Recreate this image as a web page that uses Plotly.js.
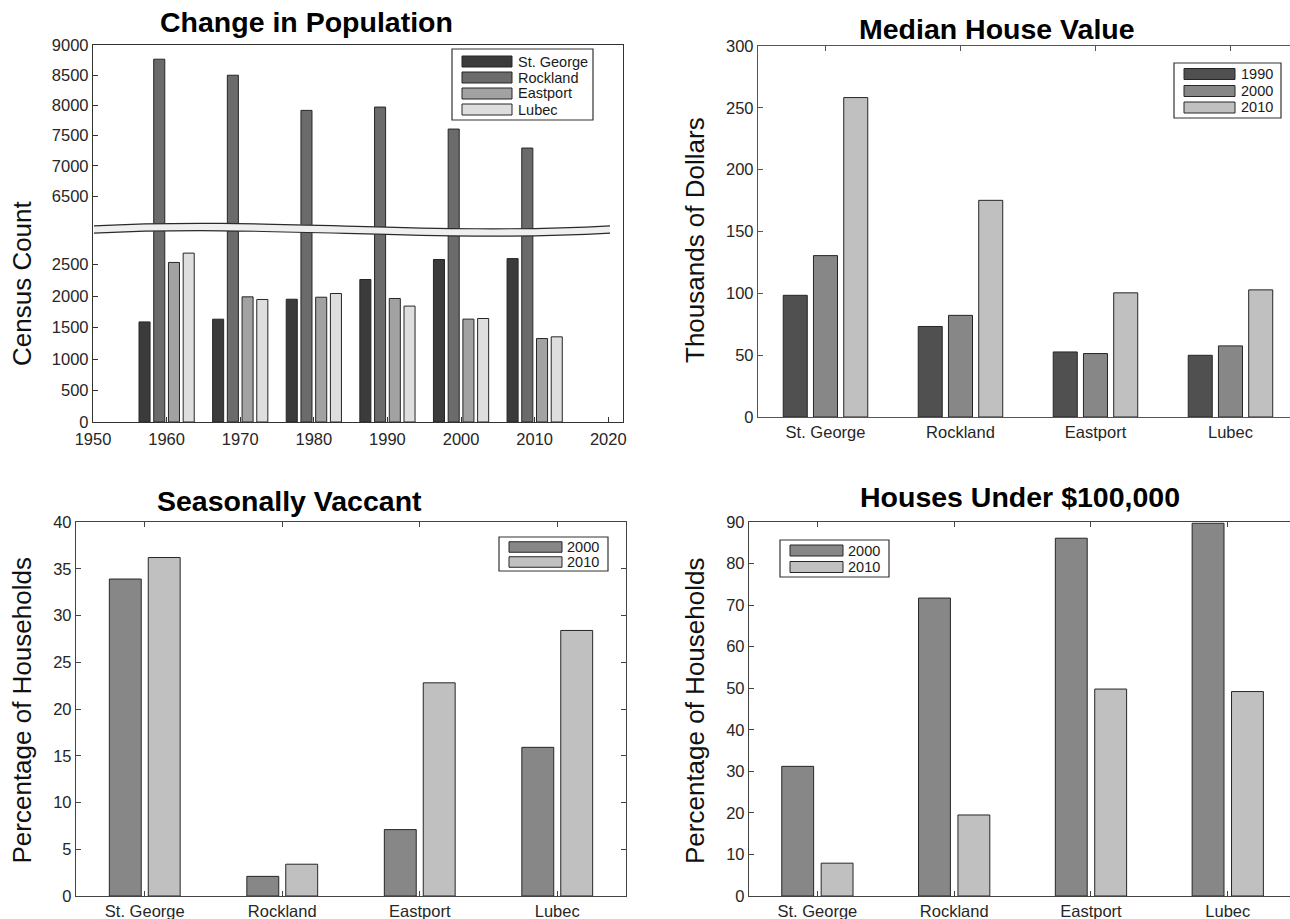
<!DOCTYPE html>
<html>
<head>
<meta charset="utf-8">
<script src="https://cdn.plot.ly/plotly-3.0.1.min.js"></script>
<style>html,body{margin:0;padding:0;background:#fff;}#chart{width:1290px;height:919px;}</style>
</head>
<body>
<div id="chart"></div>
<script>
// ---------- DATA ----------
const popYears = [1960, 1970, 1980, 1990, 2000, 2010];
const popTickYears = [1950, 1960, 1970, 1980, 1990, 2000, 2010, 2020];
const popSeriesNames = ['St. George', 'Rockland', 'Eastport', 'Lubec'];
const stGeorgePop = [1589, 1632, 1949, 2262, 2580, 2594];
const rocklandPop = [8765, 8500, 7918, 7973, 7609, 7295];
const eastportPop = [2533, 1987, 1981, 1961, 1633, 1325];
const lubecPop = [2681, 1945, 2040, 1840, 1643, 1352];
const popLowerTicks = [0, 500, 1000, 1500, 2000, 2500];
const popUpperTicks = [6500, 7000, 7500, 8000, 8500, 9000];

const towns = ['St. George', 'Rockland', 'Eastport', 'Lubec'];
const houseYears = ['1990', '2000', '2010'];
const median1990 = [98.4, 73.2, 52.6, 49.9];
const median2000 = [130.5, 82.2, 51.3, 57.5];
const median2010 = [258.3, 175.2, 100.4, 102.8];

const pctYears = ['2000', '2010'];
const vacant2000 = [33.9, 2.1, 7.1, 15.9];
const vacant2010 = [36.2, 3.4, 22.8, 28.4];
const under2000 = [31.2, 71.7, 86.1, 89.7];
const under2010 = [7.9, 19.5, 49.8, 49.2];

// ---------- STYLE ----------
const W = 1290, H = 919;
const X = px => px / W;
const Y = py => 1 - py / H;
const FONT = 'Liberation Sans, Arial, Helvetica, sans-serif';
const popColors = ['#3b3b3b', '#6b6b6b', '#a2a2a2', '#dedede'];
const houseColors = ['#505050', '#878787', '#c0c0c0'];
const pctColors = ['#878787', '#c0c0c0'];
const barLine = {color: '#262626', width: 1};
const tickFont = {family: FONT, size: 16.5, color: '#262626'};

const traces = [];
// Chart 1: bars at year offsets
const popWidth = 1.5;
const popOffsets = [-3.75, -1.75, 0.25, 2.25];
const popData = [stGeorgePop, rocklandPop, eastportPop, lubecPop];
popData.forEach((vals, i) => {
  traces.push({type: 'bar', x: popYears, y: vals, name: popSeriesNames[i], xaxis: 'x', yaxis: 'y',
    width: popWidth, offset: popOffsets[i], marker: {color: popColors[i], line: barLine}, hoverinfo: 'x+y+name'});
});
// upper part of broken axis (only series reaching it)
traces.push({type: 'bar', x: popYears, y: rocklandPop, name: 'Rockland', xaxis: 'x2', yaxis: 'y2',
  width: popWidth, offset: popOffsets[1], marker: {color: popColors[1], line: barLine}});

// Chart 2
const houseWidth = 0.178;
const houseOffsets = [-0.313, -0.089, 0.135];
[median1990, median2000, median2010].forEach((vals, i) => {
  traces.push({type: 'bar', x: towns, y: vals, name: houseYears[i], xaxis: 'x3', yaxis: 'y3',
    width: houseWidth, offset: houseOffsets[i], marker: {color: houseColors[i], line: barLine}});
});
// Chart 3
const vacWidth = 0.232, vacOffsets = [-0.2575, 0.0255];
[vacant2000, vacant2010].forEach((vals, i) => {
  traces.push({type: 'bar', x: towns, y: vals, name: pctYears[i], xaxis: 'x4', yaxis: 'y4',
    width: vacWidth, offset: vacOffsets[i], marker: {color: pctColors[i], line: barLine}});
});
// Chart 4
const undWidth = 0.233, undOffsets = [-0.2605, 0.0275];
[under2000, under2010].forEach((vals, i) => {
  traces.push({type: 'bar', x: towns, y: vals, name: pctYears[i], xaxis: 'x5', yaxis: 'y5',
    width: undWidth, offset: undOffsets[i], marker: {color: pctColors[i], line: barLine}});
});

const axBase = {showgrid: false, zeroline: false, showline: true, ticks: 'inside', ticklen: 5,
  tickwidth: 1, tickfont: tickFont, fixedrange: true};
function ax(extra) { return Object.assign({}, axBase, extra); }

const splitPy = 230;
const layout = {
  width: W, height: H, margin: {l: 0, r: 0, t: 0, b: 0},
  paper_bgcolor: '#fff', plot_bgcolor: 'rgba(0,0,0,0)',
  showlegend: false, barmode: 'overlay',
  xaxis: ax({domain: [X(93), X(623)], range: [1950, 2022], anchor: 'y', tickmode: 'array',
    tickvals: popTickYears, ticktext: popTickYears.map(String), linecolor: '#333', tickcolor: '#333', linewidth: 1.2,
    ticklabelstandoff: 2}),
  yaxis: ax({domain: [Y(422), Y(splitPy)], range: [0, 3048], anchor: 'x', tickmode: 'array',
    tickvals: popLowerTicks, ticktext: popLowerTicks.map(String), mirror: true, linecolor: '#333', tickcolor: '#333', linewidth: 1.2}),
  xaxis2: ax({domain: [X(93), X(623)], matches: 'x', anchor: 'y2', side: 'top', ticks: '',
    showticklabels: false, linecolor: '#333', linewidth: 1.2}),
  yaxis2: ax({domain: [Y(splitPy), Y(45)], range: [5939, 9000], anchor: 'x2', tickmode: 'array',
    tickvals: popUpperTicks, ticktext: popUpperTicks.map(String), mirror: true, linecolor: '#333', tickcolor: '#333', linewidth: 1.2}),
  xaxis3: ax({domain: [X(758), 1], range: [-0.5, 3.441], type: 'category', anchor: 'y3', mirror: 'ticks',
    linecolor: '#555', tickcolor: '#555', linewidth: 1.2, layer: 'below traces'}),
  yaxis3: ax({domain: [Y(417), Y(46)], range: [0, 300], dtick: 50, anchor: 'x3', linecolor: '#555', tickcolor: '#555', linewidth: 1.2}),
  xaxis4: ax({domain: [X(76), X(626)], range: [-0.5, 3.5], type: 'category', anchor: 'y4', mirror: 'ticks',
    linecolor: '#444', tickcolor: '#444', linewidth: 1.2}),
  yaxis4: ax({domain: [Y(896), Y(522)], range: [0, 40], dtick: 5, anchor: 'x4', mirror: 'ticks',
    linecolor: '#444', tickcolor: '#444', linewidth: 1.2}),
  xaxis5: ax({domain: [X(749), 1], range: [-0.5, 3.455], type: 'category', anchor: 'y5', mirror: 'ticks',
    linecolor: '#444', tickcolor: '#444', linewidth: 1.2}),
  yaxis5: ax({domain: [Y(896), Y(522)], range: [0, 90], dtick: 10, anchor: 'x5',
    linecolor: '#444', tickcolor: '#444', linewidth: 1.2}),
  shapes: [], annotations: []
};

// Break band on the population axis
(function () {
  const h = 3.7;
  const p = [[94, 229.5], [270, 220.5], [430, 239.5], [610, 229.5]];
  const pt = (q, d) => `${X(q[0])},${Y(q[1] + d)}`;
  const topPath = `M ${pt(p[0], -h)} C ${pt(p[1], -h)} ${pt(p[2], -h)} ${pt(p[3], -h)}`;
  const botPath = `M ${pt(p[0], h)} C ${pt(p[1], h)} ${pt(p[2], h)} ${pt(p[3], h)}`;
  const fillPath = topPath + ` L ${pt(p[3], h)} C ${pt(p[2], h)} ${pt(p[1], h)} ${pt(p[0], h)} Z`;
  layout.shapes.push({type: 'path', xref: 'paper', yref: 'paper', path: fillPath, fillcolor: '#efefef', line: {width: 0}, layer: 'above'});
  layout.shapes.push({type: 'path', xref: 'paper', yref: 'paper', path: topPath, line: {color: '#2a2a2a', width: 1.2}, layer: 'above'});
  layout.shapes.push({type: 'path', xref: 'paper', yref: 'paper', path: botPath, line: {color: '#2a2a2a', width: 1.2}, layer: 'above'});
})();

// Custom legends (wide swatches)
function addLegend(box, names, colors, rowsY, sw, textX, swH) {
  layout.shapes.push({type: 'rect', xref: 'paper', yref: 'paper', x0: X(box[0]), x1: X(box[2]), y0: Y(box[3]), y1: Y(box[1]),
    fillcolor: '#fff', line: {color: '#333', width: 1.2}, layer: 'above'});
  names.forEach((n, i) => {
    layout.shapes.push({type: 'rect', xref: 'paper', yref: 'paper', x0: X(sw[0]), x1: X(sw[1]),
      y0: Y(rowsY[i] + swH / 2), y1: Y(rowsY[i] - swH / 2), fillcolor: colors[i], line: {color: '#262626', width: 1}, layer: 'above'});
    layout.annotations.push({xref: 'paper', yref: 'paper', x: X(textX), y: Y(rowsY[i]), text: n, showarrow: false,
      xanchor: 'left', yanchor: 'middle', font: {family: FONT, size: 14.5, color: '#1a1a1a'}});
  });
}
addLegend([452, 49, 593, 120], popSeriesNames, popColors, [61.5, 77.5, 93.5, 109.5], [462, 512], 516, 11);
addLegend([1174, 63, 1281, 118], houseYears, houseColors, [74, 91, 107.5], [1184, 1235], 1239, 11);
addLegend([499, 537, 608, 571], pctYears, pctColors, [547, 562], [509, 562], 565, 10.5);
addLegend([780, 540, 889, 577], pctYears, pctColors, [550.5, 567], [790, 843], 846, 11);

// Titles
function addTitle(text, cx, cy) {
  layout.annotations.push({xref: 'paper', yref: 'paper', x: X(cx), y: Y(cy), text: '<b>' + text + '</b>', showarrow: false,
    xanchor: 'center', yanchor: 'middle', font: {family: FONT, size: 28.5, color: '#000'}});
}
addTitle('Change in Population', 306, 22);
addTitle('Median House Value', 997, 29);
addTitle('Seasonally Vaccant', 289, 501);
addTitle('Houses Under $100,000', 1020, 497);

function addYTitle(text, cx, cy) {
  layout.annotations.push({xref: 'paper', yref: 'paper', x: X(cx), y: Y(cy), text: text, showarrow: false, textangle: -90,
    xanchor: 'center', yanchor: 'middle', font: {family: FONT, size: 26, color: '#111'}});
}
addYTitle('Census Count', 22, 283);
addYTitle('Thousands of Dollars', 695, 240);
addYTitle('Percentage of Households', 21.5, 711);
addYTitle('Percentage of Households', 695, 711);

Plotly.newPlot('chart', traces, layout, {displayModeBar: false, staticPlot: true});
</script>
</body>
</html>
